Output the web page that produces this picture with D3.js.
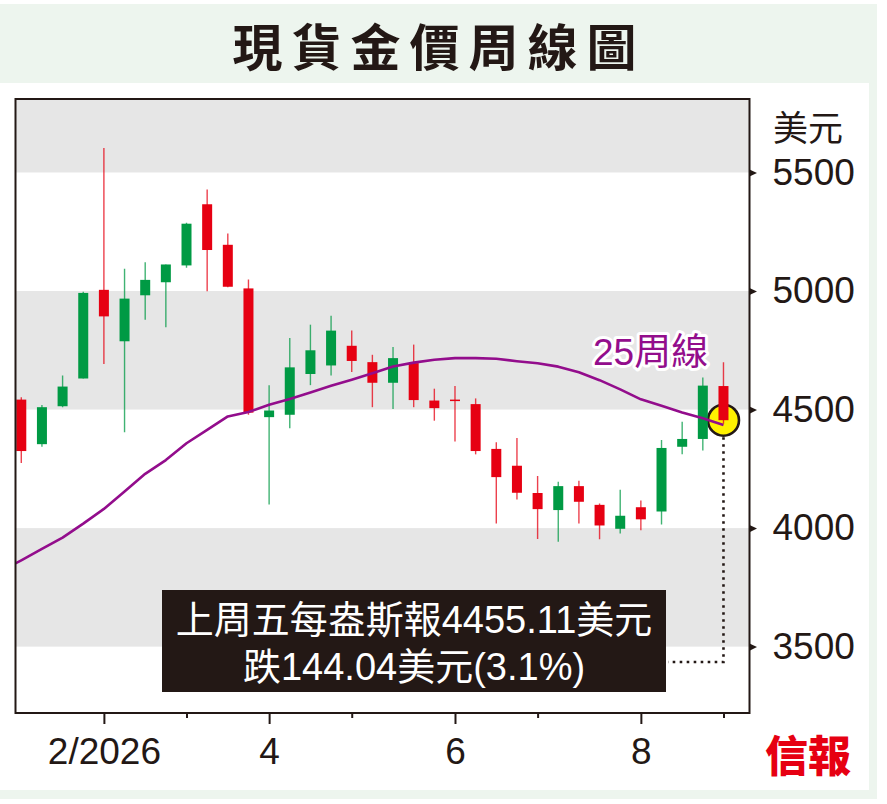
<!DOCTYPE html>
<html>
<head>
<meta charset="utf-8">
<script src="https://cdn.jsdelivr.net/npm/d3@7"></script>
<style>
  body { margin: 0; background: #fff; }
  svg { display: block; }
</style>
</head>
<body>
<div id="chart"></div>
<script>
/* CONSTANTS AND GLOBALS */
const width = 887,
  height = 804,
  plot = { left: 15.5, right: 749.5, top: 99, bottom: 713 };

const ink = "#231815",
  upColor = "#009a44",
  downColor = "#e60012",
  maColor = "#930d8c",
  bandColor = "#e6e6e6";

const latin = "'Liberation Sans', Arial, 'Noto Sans CJK TC', sans-serif";
const cjk = "'Noto Sans CJK TC', 'Noto Sans CJK SC', sans-serif";

/* DATA (US$ per ounce) */
// one candle per week, weeks ending on Friday, 9 Jan 2026 .. 4 Sep 2026
const weeks = d3.utcFriday.range(new Date(Date.UTC(2026, 0, 9)), new Date(Date.UTC(2026, 8, 5)));

const opens = [4542, 4354, 4514, 4631, 5005, 4788, 4982, 5037, 5108, 5366, 5195, 5011,
  4468, 4478, 4650, 4686, 4769, 4700, 4613, 4696, 4538, 4542, 4523, 4334, 4263, 4148,
  4076, 4177, 4098, 3997, 4088, 4070, 4343, 4376, 4599.15];
const highs = [4552, 4519, 4644, 4997, 5603, 5094, 5121, 5112, 5288, 5428, 5243, 5049,
  4603, 4802, 4858, 4896, 4833, 4731, 4764, 4774, 4588, 4599, 4547, 4362, 4380, 4220,
  4195, 4200, 4104, 4162, 4116, 4372, 4449, 4635, 4700];
const lows = [4275, 4343, 4510, 4631, 4692, 4404, 4879, 4847, 5098, 4999, 5016, 4478,
  4100, 4421, 4603, 4644, 4658, 4510, 4502, 4510, 4453, 4365, 4311, 4019, 4121, 3954,
  3942, 4019, 3953, 3977, 3991, 4015, 4311, 4327, 4440];
const closes = [4325, 4510, 4597, 4992, 4893, 4968, 5047, 5112, 5284, 5173, 5018, 4487,
  4496, 4678, 4750, 4833, 4705, 4613, 4717, 4540, 4506, 4537, 4325, 4215, 4149, 4080,
  4177, 4111, 4011, 4052, 4037, 4338, 4376, 4601, 4455.11];

// 25-week moving average, starting one week before the first candle
const maWeeks = [new Date(Date.UTC(2026, 0, 2)), ...weeks];
const maValues = [3818, 3864, 3912, 3960, 4019, 4081, 4154, 4229, 4287, 4358, 4414, 4471,
  4490, 4520, 4545, 4572, 4600, 4626, 4653, 4682, 4698, 4710, 4717, 4717, 4714, 4704,
  4695, 4681, 4657, 4624, 4585, 4543, 4516, 4488, 4463, 4435];

const yTicks = [3500, 4000, 4500, 5000, 5500];
const bands = [[3500, 4000], [4500, 5000], [5500, 6000]];
const majorTicks = [new Date(Date.UTC(2026, 1, 6)), new Date(Date.UTC(2026, 3, 3)),
  new Date(Date.UTC(2026, 5, 5)), new Date(Date.UTC(2026, 7, 7))];
const majorLabels = ["2/2026", "4", "6", "8"];
const minorTicks = [new Date(Date.UTC(2026, 2, 6)), new Date(Date.UTC(2026, 4, 1)),
  new Date(Date.UTC(2026, 6, 3)), new Date(Date.UTC(2026, 8, 4))];

const title = "現貨金價周線圖";
const unitLabel = "美元";
const maLabel = "25周線";
const noteLines = ["上周五每盎斯報4455.11美元", "跌144.04美元(3.1%)"];
const logo = "信報";

/* SCALES */
const weekMs = 7 * 24 * 3600 * 1000;
const xScale = d3.scaleUtc()
  .domain([new Date(+weeks[0] - 0.28 * weekMs), new Date(+weeks[weeks.length - 1] + 1.26 * weekMs)])
  .range([plot.left, plot.right]);

const yScale = d3.scaleLinear()
  .domain([3220, 5810])
  .range([plot.bottom, plot.top]);

const candles = weeks.map((d, i) => ({
  date: d, open: opens[i], high: highs[i], low: lows[i], close: closes[i]
}));
const maData = maWeeks.map((d, i) => ({ date: d, value: maValues[i] }));

/* SVG */
const svg = d3.select("#chart")
  .append("svg")
  .attr("width", width)
  .attr("height", height);

// frame background
svg.append("rect")
  .attr("x", 0).attr("y", 4)
  .attr("width", 877).attr("height", 795)
  .attr("fill", "#edf5ee");
svg.append("rect")
  .attr("x", 0).attr("y", 83)
  .attr("width", 869).attr("height", 707)
  .attr("fill", "#fff");

svg.append("text")
  .attr("x", 439)
  .attr("y", 66)
  .attr("text-anchor", "middle")
  .attr("font-family", cjk)
  .attr("font-weight", 700)
  .attr("font-size", 50)
  .attr("letter-spacing", 9)
  .attr("fill", ink)
  .text(title);

svg.append("defs").append("clipPath")
  .attr("id", "plot-clip")
  .append("rect")
  .attr("x", plot.left).attr("y", plot.top)
  .attr("width", plot.right - plot.left)
  .attr("height", plot.bottom - plot.top);

const g = svg.append("g").attr("clip-path", "url(#plot-clip)");

// grey bands
g.selectAll("rect.band")
  .data(bands)
  .join("rect")
  .attr("class", "band")
  .attr("x", plot.left)
  .attr("width", plot.right - plot.left)
  .attr("y", d => yScale(d[1]))
  .attr("height", d => yScale(d[0]) - yScale(d[1]))
  .attr("fill", bandColor);

// highlight of the last close
const last = candles[candles.length - 1];
const cx = xScale(last.date), cy = yScale(last.close);

svg.append("path")
  .attr("d", `M${cx},${cy + 17}V662H668`)
  .attr("fill", "none")
  .attr("stroke", ink)
  .attr("stroke-width", 2.6)
  .attr("stroke-dasharray", "2.6,4.4");

g.append("circle")
  .attr("cx", cx)
  .attr("cy", cy)
  .attr("r", 15.5)
  .attr("fill", "#fff100")
  .attr("stroke", ink)
  .attr("stroke-width", 2.6);

// candles
const bodyW = 10;
const candle = g.selectAll("g.candle")
  .data(candles)
  .join("g")
  .attr("class", "candle")
  .attr("fill", d => d.close >= d.open ? upColor : downColor)
  .attr("stroke", d => d.close >= d.open ? upColor : downColor);

candle.append("line")
  .attr("x1", d => xScale(d.date))
  .attr("x2", d => xScale(d.date))
  .attr("y1", d => yScale(d.high))
  .attr("y2", d => yScale(d.low))
  .attr("stroke-width", 1.4)
  .attr("stroke-opacity", 0.75);

candle.append("rect")
  .attr("x", d => xScale(d.date) - bodyW / 2)
  .attr("width", bodyW)
  .attr("y", d => yScale(Math.max(d.open, d.close)))
  .attr("height", d => Math.max(1.5, Math.abs(yScale(d.open) - yScale(d.close))))
  .attr("stroke", "none");

// 25-week line
const line = d3.line()
  .x(d => xScale(d.date))
  .y(d => yScale(d.value));

g.append("path")
  .datum(maData)
  .attr("d", line)
  .attr("fill", "none")
  .attr("stroke", maColor)
  .attr("stroke-width", 2.6)
  .attr("stroke-linejoin", "round");

svg.append("text")
  .attr("x", 593)
  .attr("y", 365)
  .attr("font-family", latin)
  .attr("font-size", 37)
  .attr("fill", maColor)
  .attr("stroke", "#fff")
  .attr("stroke-width", 6)
  .attr("stroke-linejoin", "round")
  .attr("paint-order", "stroke")
  .text(maLabel);

// plot frame
svg.append("rect")
  .attr("x", plot.left).attr("y", plot.top)
  .attr("width", plot.right - plot.left)
  .attr("height", plot.bottom - plot.top)
  .attr("fill", "none")
  .attr("stroke", ink)
  .attr("stroke-width", 2);

/* AXES */
const yAxis = d3.axisRight(yScale)
  .tickValues(yTicks)
  .tickSize(0)
  .tickPadding(23)
  .tickFormat(d3.format("d"));

const yG = svg.append("g")
  .attr("transform", `translate(${plot.right},0)`)
  .call(yAxis);
yG.select(".domain").remove();
yG.selectAll("text")
  .attr("font-family", latin)
  .attr("font-size", 37)
  .attr("fill", ink);
yG.selectAll(".tick").append("path")
  .attr("d", "M0,-3.6L7.5,0L0,3.6Z")
  .attr("fill", ink);

svg.append("text")
  .attr("x", 773)
  .attr("y", 141)
  .attr("font-family", cjk)
  .attr("font-size", 35)
  .attr("fill", ink)
  .text(unitLabel);

const xMajor = d3.axisBottom(xScale)
  .tickValues(majorTicks)
  .tickSize(11)
  .tickPadding(14)
  .tickFormat((d, i) => majorLabels[i]);

const xG = svg.append("g")
  .attr("transform", `translate(0,${plot.bottom})`)
  .call(xMajor);
xG.select(".domain").remove();
xG.selectAll("line").attr("stroke", ink).attr("stroke-width", 2);
xG.selectAll("text")
  .attr("font-family", latin)
  .attr("font-size", 37)
  .attr("fill", ink);

const xMinor = d3.axisBottom(xScale)
  .tickValues(minorTicks)
  .tickSize(5)
  .tickFormat("");

const xmG = svg.append("g")
  .attr("transform", `translate(0,${plot.bottom})`)
  .call(xMinor);
xmG.select(".domain").remove();
xmG.selectAll("line").attr("stroke", ink).attr("stroke-width", 2);

/* NOTE BOX */
svg.append("rect")
  .attr("x", 162).attr("y", 590)
  .attr("width", 504).attr("height", 102)
  .attr("fill", ink);

svg.append("g")
  .selectAll("text")
  .data(noteLines)
  .join("text")
  .attr("x", 414)
  .attr("y", (d, i) => 633 + i * 47)
  .attr("text-anchor", "middle")
  .attr("font-family", latin)
  .attr("font-size", 38)
  .attr("fill", "#fff")
  .text(d => d);

svg.append("text")
  .attr("x", 765)
  .attr("y", 772)
  .attr("font-family", cjk)
  .attr("font-weight", 900)
  .attr("font-size", 43)
  .attr("fill", downColor)
  .text(logo);
</script>
</body>
</html>
